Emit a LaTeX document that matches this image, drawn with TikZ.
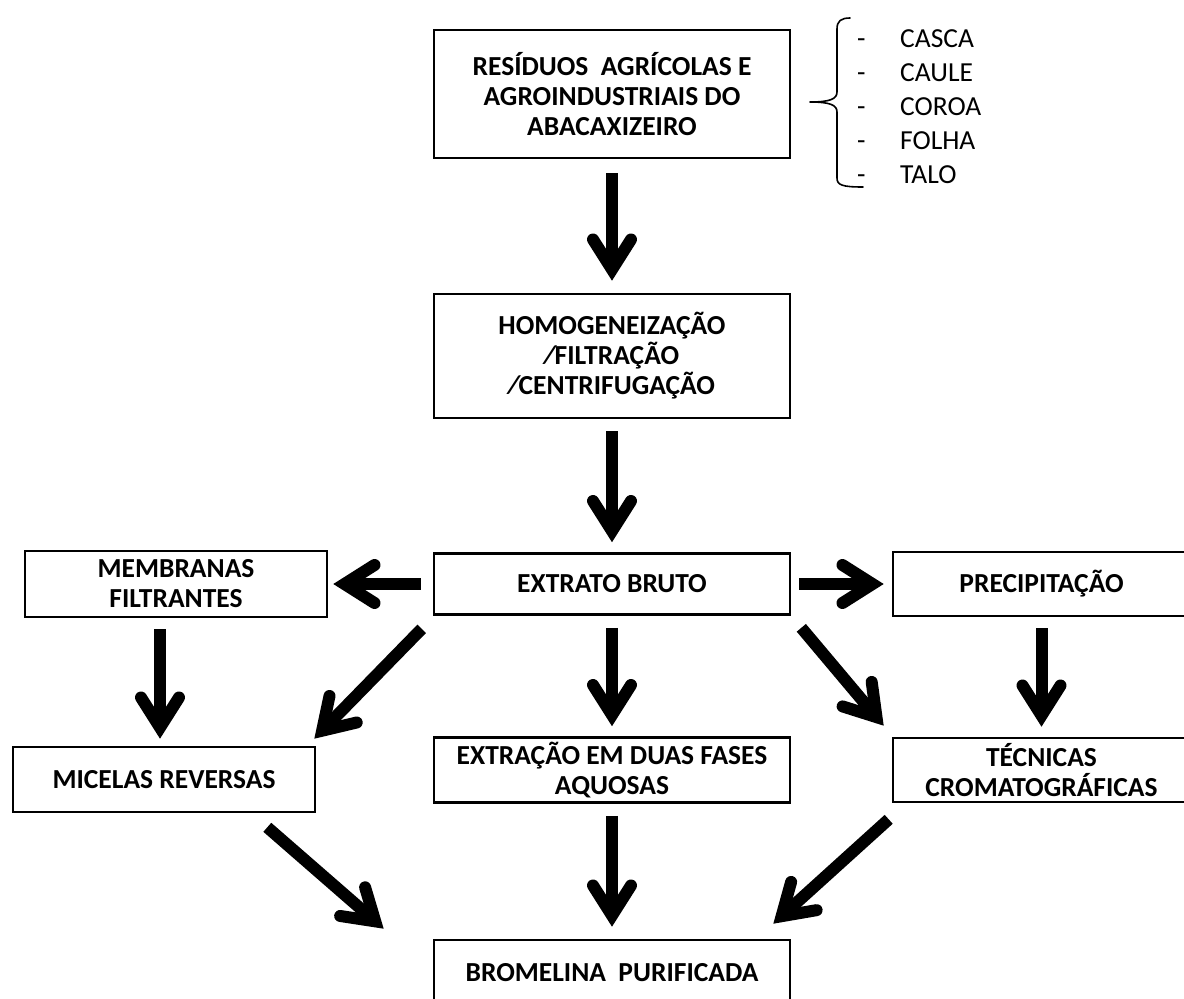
\documentclass[tikz,border=0pt]{standalone}
\usepackage{fontspec}
\setmainfont{Carlito}
\usetikzlibrary{arrows.meta}
\begin{document}
\begin{tikzpicture}[x=1pt,y=-1pt,
  box/.style={draw, line width=2.6pt, inner sep=0pt, align=center,
    font=\fontsize{27.5}{30}\selectfont\bfseries},
  arr/.style={line width=12pt, line cap=butt,
    -{Straight Barb[length=30pt,width=38pt,line cap=round,line join=miter]}},
  item/.style={anchor=base west, inner sep=0pt, font=\fontsize{27.5}{30}\selectfont}
]
\useasboundingbox (0,0) rectangle (1184,999);

% boxes
\node[box, minimum width=356pt, minimum height=128pt] (b1) at (612,94)
  {RESÍDUOS\ \ AGRÍCOLAS E\\AGROINDUSTRIAIS DO\\ABACAXIZEIRO};
\node[box, minimum width=356pt, minimum height=124pt] (b2) at (612,356)
  {HOMOGENEIZAÇÃO\\⁄FILTRAÇÃO\\⁄CENTRIFUGAÇÃO};
\node[box, minimum width=356pt, minimum height=61pt] (ext) at (612,584)
  {EXTRATO BRUTO};
\node[box, minimum width=302pt, minimum height=66pt] (mem) at (176,584)
  {MEMBRANAS\\FILTRANTES};
\node[box, minimum width=297pt, minimum height=64pt] (pre) at (1041.5,584)
  {PRECIPITAÇÃO};
\node[box, minimum width=302pt, minimum height=65pt] (mic) at (164,779.5)
  {MICELAS REVERSAS};
\node[box, minimum width=356pt, minimum height=65pt] (extr) at (612,770)
  {EXTRAÇÃO EM DUAS FASES\\AQUOSAS};
\node[box, minimum width=297pt, minimum height=64pt] (tec) at (1041.5,770)
  {TÉCNICAS\\CROMATOGRÁFICAS};
\node[box, minimum width=356pt, minimum height=66pt] (bro) at (612,973)
  {BROMELINA\ \ PURIFICADA};

% list with brace
\draw[line width=1.6pt, line cap=round, line join=round]
  (850,18) .. controls (841,18) and (837,21) .. (837,29)
  -- (837,92) .. controls (837,99) and (830,102) .. (810,102)
  .. controls (830,102) and (837,105) .. (837,112)
  -- (837,178) .. controls (837,185) and (842,187) .. (863,187);
\foreach \t [count=\i] in {CASCA,CAULE,COROA,FOLHA,TALO}{
  \node[item] (d\i) at (857,{47+34*(\i-1)}) {-};
  \node[item] (l\i) at (900,{47+34*(\i-1)}) {\t};
}

% arrows
\draw[arr, shorten <=14pt, shorten >=12pt] (b1.south) -- (b2.north);
\draw[arr, shorten <=12pt, shorten >=10pt] (b2.south) -- (ext.north);
\draw[arr, shorten <=12pt, shorten >=5pt] (ext.west) -- (ext.west -| mem.east);
\draw[arr, shorten <=8pt, shorten >=8pt] (ext.east) -- (ext.east -| pre.west);
\draw[arr, shorten <=11pt, shorten >=7pt] ([xshift=-16pt]mem.south) -- ([xshift=-16pt]mem.south |- mic.north);
\draw[arr] ([xshift=-11pt,yshift=-13pt]ext.south west) -- ([xshift=-2pt,yshift=7pt]mic.north east);
\draw[arr, shorten <=12pt, shorten >=10pt] (ext.south) -- (extr.north);
\draw[arr] ([xshift=10pt,yshift=-12pt]ext.south east) -- ([xshift=-8pt,yshift=11pt]tec.north west);
\draw[arr, shorten <=11pt, shorten >=10pt] (pre.south) -- (tec.north);
\draw[arr] ([xshift=-49pt,yshift=-14pt]mic.south east) -- ([xshift=-49pt,yshift=10pt]bro.north west);
\draw[arr, shorten <=12pt, shorten >=12pt] (extr.south) -- (bro.north);
\draw[arr] ([xshift=-3pt,yshift=-16pt]tec.south west) -- ([xshift=-18pt,yshift=15pt]bro.north east);
\end{tikzpicture}
\end{document}
